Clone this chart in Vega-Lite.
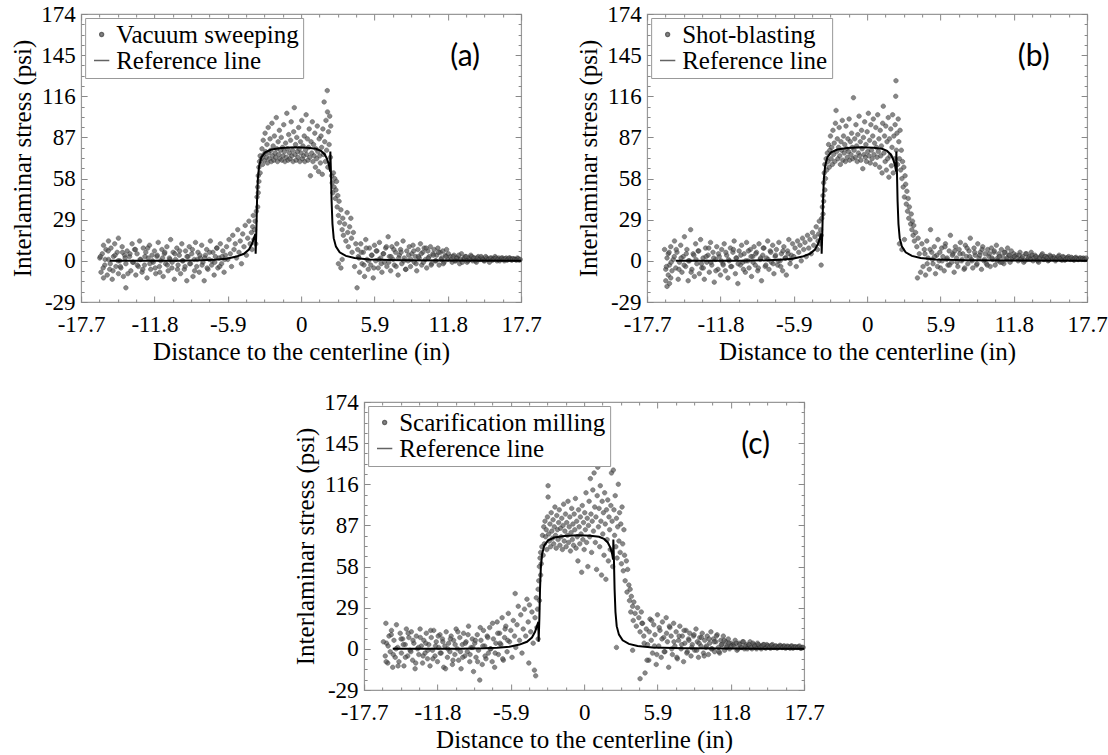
{
"$schema": "https://vega.github.io/schema/vega-lite/v6.json",
"background": "white",
"padding": {"left": 10, "top": 2, "right": 0, "bottom": 0},
"config": {
  "view": {"stroke": "#999", "strokeWidth": 1.2},
  "font": "Liberation Serif",
  "axis": {"labelFont": "Liberation Serif", "labelFontSize": 23, "labelColor": "black", "titleFont": "Liberation Serif", "titleFontSize": 25, "titleFontWeight": "normal", "titleColor": "black", "grid": false, "domain": false, "tickColor": "#888", "tickWidth": 1, "labelOverlap": false, "labelFlush": false, "labelBound": false},
  "legend": {"labelFont": "Liberation Serif", "labelFontSize": 25, "labelLimit": 400}
},
"datasets": {
  "ref": [{"x":-15.4,"y":0},{"x":-13,"y":0},{"x":-10,"y":0.1},{"x":-8,"y":0.4},{"x":-7,"y":0.8},{"x":-6,"y":1.5},{"x":-5.2,"y":3},{"x":-4.6,"y":5},{"x":-4.2,"y":8},{"x":-3.95,"y":12},{"x":-3.8,"y":16},{"x":-3.68,"y":19},{"x":-3.66,"y":5},{"x":-3.6,"y":22},{"x":-3.55,"y":42},{"x":-3.48,"y":58},{"x":-3.38,"y":67},{"x":-3.2,"y":73},{"x":-2.9,"y":76.5},{"x":-2.4,"y":78.5},{"x":-1.6,"y":79.5},{"x":-0.5,"y":80},{"x":0.5,"y":79.8},{"x":1.2,"y":79},{"x":1.6,"y":77.5},{"x":1.9,"y":75},{"x":2.1,"y":71.5},{"x":2.25,"y":67},{"x":2.33,"y":63},{"x":2.35,"y":77},{"x":2.4,"y":62},{"x":2.45,"y":42},{"x":2.52,"y":26},{"x":2.62,"y":16},{"x":2.8,"y":10},{"x":3.1,"y":6},{"x":3.6,"y":3.5},{"x":4.3,"y":2},{"x":5.5,"y":1},{"x":8,"y":0.5},{"x":12,"y":0.2},{"x":17.7,"y":0}],
  "labels": [{"panel":"a","label":"(a)","x":13.2,"y":144},{"panel":"b","label":"(b)","x":13.4,"y":144},{"panel":"c","label":"(c)","x":13.8,"y":144}],
  "a": [{"x":-16.2,"y":2},{"x":-16.1,"y":-8},{"x":-16.0,"y":5},{"x":-15.9,"y":-12},{"x":-15.9,"y":11},{"x":-15.8,"y":-3},{"x":-15.7,"y":8},{"x":-15.6,"y":-10},{"x":-15.5,"y":14},{"x":-15.5,"y":1},{"x":-15.4,"y":-6},{"x":-15.3,"y":9},{"x":-15.2,"y":-13},{"x":-15.1,"y":3},{"x":-15.0,"y":12},{"x":-14.9,"y":-4},{"x":-14.8,"y":6},{"x":-14.7,"y":-9},{"x":-14.7,"y":16},{"x":-14.6,"y":0},{"x":-14.5,"y":-5},{"x":-14.4,"y":10},{"x":-14.3,"y":-11},{"x":-14.2,"y":4},{"x":-14.1,"y":-19},{"x":-14.1,"y":-2},{"x":-14.0,"y":7},{"x":-13.8,"y":3},{"x":-13.7,"y":-7},{"x":-13.6,"y":12},{"x":-13.5,"y":-1},{"x":-13.4,"y":8},{"x":-13.3,"y":-10},{"x":-13.2,"y":5},{"x":-13.1,"y":-4},{"x":-13.0,"y":14},{"x":-12.9,"y":1},{"x":-12.8,"y":-8},{"x":-12.7,"y":9},{"x":-12.6,"y":-3},{"x":-12.5,"y":6},{"x":-12.4,"y":-12},{"x":-12.3,"y":2},{"x":-12.2,"y":11},{"x":-12.1,"y":-6},{"x":-12.0,"y":4},{"x":-11.9,"y":-1},{"x":-11.8,"y":7},{"x":-11.7,"y":-9},{"x":-11.6,"y":3},{"x":-11.5,"y":13},{"x":-11.4,"y":-4},{"x":-11.3,"y":0},{"x":-11.2,"y":8},{"x":-11.1,"y":-11},{"x":-11.0,"y":5},{"x":-10.9,"y":-2},{"x":-10.8,"y":10},{"x":-10.7,"y":-7},{"x":-10.6,"y":2},{"x":-10.5,"y":15},{"x":-10.4,"y":-5},{"x":-10.3,"y":6},{"x":-10.2,"y":-13},{"x":-10.1,"y":1},{"x":-10.0,"y":9},{"x":-9.9,"y":-3},{"x":-9.8,"y":4},{"x":-9.7,"y":-9},{"x":-9.6,"y":12},{"x":-9.5,"y":0},{"x":-9.4,"y":-6},{"x":-9.3,"y":7},{"x":-9.2,"y":-14},{"x":-9.1,"y":3},{"x":-9.0,"y":10},{"x":-8.9,"y":-2},{"x":-8.8,"y":5},{"x":-8.7,"y":-11},{"x":-8.6,"y":1},{"x":-8.5,"y":13},{"x":-8.4,"y":-4},{"x":-8.3,"y":6},{"x":-8.2,"y":-8},{"x":-8.1,"y":2},{"x":-8.0,"y":11},{"x":-7.9,"y":-1},{"x":-7.8,"y":-14},{"x":-7.7,"y":4},{"x":-7.6,"y":8},{"x":-7.5,"y":-6},{"x":-7.4,"y":1},{"x":-7.3,"y":14},{"x":-7.2,"y":-3},{"x":-7.1,"y":6},{"x":-7.0,"y":-10},{"x":-6.9,"y":3},{"x":-6.8,"y":9},{"x":-6.7,"y":-5},{"x":-6.6,"y":2},{"x":-6.5,"y":12},{"x":-6.4,"y":-2},{"x":-6.3,"y":7},{"x":-6.2,"y":-8},{"x":-6.1,"y":4},
  {"x":-6.0,"y":10},{"x":-5.9,"y":1},{"x":-5.8,"y":15},{"x":-5.7,"y":5},{"x":-5.6,"y":-4},{"x":-5.5,"y":18},{"x":-5.4,"y":8},{"x":-5.3,"y":12},{"x":-5.2,"y":2},{"x":-5.1,"y":22},{"x":-5.0,"y":6},{"x":-4.9,"y":14},{"x":-4.8,"y":-2},{"x":-4.7,"y":19},{"x":-4.6,"y":10},{"x":-4.5,"y":25},{"x":-4.4,"y":4},{"x":-4.3,"y":16},{"x":-4.2,"y":28},{"x":-4.1,"y":12},{"x":-4.0,"y":20},{"x":-3.95,"y":8},{"x":-3.9,"y":24},{"x":-3.85,"y":32},{"x":-3.8,"y":15},{"x":-3.75,"y":22},{"x":-3.7,"y":28},{"x":-3.65,"y":12},{"x":-3.6,"y":35},
  {"x":-3.55,"y":45},{"x":-3.5,"y":52},{"x":-3.5,"y":38},{"x":-3.45,"y":60},{"x":-3.45,"y":48},{"x":-3.4,"y":66},{"x":-3.4,"y":56},{"x":-3.35,"y":70},{"x":-3.3,"y":62},{"x":-3.3,"y":74},
  {"x":-3.2,"y":72},{"x":-3.15,"y":79},{"x":-3.1,"y":68},{"x":-3.05,"y":85},{"x":-3.0,"y":75},{"x":-2.95,"y":71},{"x":-2.9,"y":90},{"x":-2.85,"y":77},{"x":-2.8,"y":73},{"x":-2.75,"y":82},{"x":-2.7,"y":69},{"x":-2.65,"y":94},{"x":-2.6,"y":76},{"x":-2.55,"y":72},{"x":-2.5,"y":86},{"x":-2.45,"y":78},{"x":-2.4,"y":70},{"x":-2.35,"y":97},{"x":-2.3,"y":74},{"x":-2.25,"y":81},{"x":-2.2,"y":71},{"x":-2.15,"y":88},{"x":-2.1,"y":76},{"x":-2.05,"y":73},{"x":-2.0,"y":101},{"x":-1.95,"y":79},{"x":-1.9,"y":70},{"x":-1.85,"y":84},{"x":-1.8,"y":75},{"x":-1.75,"y":92},{"x":-1.7,"y":72},{"x":-1.65,"y":78},{"x":-1.6,"y":87},{"x":-1.55,"y":71},{"x":-1.5,"y":80},{"x":-1.45,"y":74},{"x":-1.4,"y":96},{"x":-1.35,"y":77},{"x":-1.3,"y":70},{"x":-1.25,"y":83},{"x":-1.2,"y":73},{"x":-1.15,"y":104},{"x":-1.1,"y":79},{"x":-1.05,"y":71},{"x":-1.0,"y":89},{"x":-0.95,"y":76},{"x":-0.9,"y":72},{"x":-0.85,"y":85},{"x":-0.8,"y":98},{"x":-0.75,"y":74},{"x":-0.7,"y":78},{"x":-0.65,"y":70},{"x":-0.6,"y":91},{"x":-0.55,"y":108},{"x":-0.5,"y":75},{"x":-0.45,"y":82},{"x":-0.4,"y":71},{"x":-0.35,"y":87},{"x":-0.3,"y":77},{"x":-0.25,"y":73},{"x":-0.2,"y":94},{"x":-0.15,"y":79},{"x":-0.1,"y":70},{"x":-0.05,"y":84},{"x":0.0,"y":76},{"x":0.05,"y":99},{"x":0.1,"y":72},{"x":0.15,"y":81},{"x":0.2,"y":74},{"x":0.25,"y":88},{"x":0.3,"y":70},{"x":0.35,"y":78},{"x":0.4,"y":103},{"x":0.45,"y":75},{"x":0.5,"y":86},{"x":0.55,"y":71},{"x":0.6,"y":80},{"x":0.65,"y":93},{"x":0.7,"y":73},{"x":0.75,"y":60},{"x":0.8,"y":84},{"x":0.85,"y":76},{"x":0.9,"y":98},{"x":0.95,"y":70},{"x":1.0,"y":82},{"x":1.05,"y":74},{"x":1.1,"y":90},{"x":1.15,"y":66},{"x":1.2,"y":79},{"x":1.25,"y":72},{"x":1.3,"y":95},{"x":1.35,"y":77},{"x":1.4,"y":63},{"x":1.45,"y":86},{"x":1.5,"y":74},{"x":1.55,"y":69},{"x":1.6,"y":88},{"x":1.65,"y":80},{"x":1.7,"y":61},{"x":1.75,"y":93},{"x":1.8,"y":75},{"x":1.85,"y":112},{"x":1.9,"y":84},{"x":1.95,"y":70},{"x":2.0,"y":99},{"x":2.05,"y":78},{"x":2.1,"y":120},{"x":2.12,"y":105},{"x":2.15,"y":66},{"x":2.2,"y":91},{"x":2.25,"y":82},{"x":2.3,"y":102},{"x":2.35,"y":73},{"x":2.38,"y":95},
  {"x":2.45,"y":60},{"x":2.5,"y":55},{"x":2.55,"y":48},{"x":2.6,"y":62},{"x":2.65,"y":52},{"x":2.7,"y":58},{"x":2.75,"y":44},{"x":2.8,"y":50},{"x":2.85,"y":56},{"x":2.9,"y":38},{"x":2.95,"y":46},{"x":3.0,"y":32},{"x":3.0,"y":-2},{"x":3.05,"y":42},{"x":3.1,"y":27},{"x":3.2,"y":36},{"x":3.2,"y":-5},{"x":3.3,"y":22},{"x":3.3,"y":1},{"x":3.35,"y":30},{"x":3.4,"y":18},{"x":3.5,"y":26},{"x":3.6,"y":14},{"x":3.7,"y":34},{"x":3.75,"y":20},{"x":3.8,"y":10},{"x":3.9,"y":24},{"x":4.0,"y":30},{"x":4.05,"y":16},{"x":4.1,"y":6},{"x":4.2,"y":20},{"x":4.3,"y":-4},{"x":4.4,"y":12},{"x":4.5,"y":-19},{"x":4.55,"y":8},
  {"x":4.6,"y":3},{"x":4.7,"y":-8},{"x":4.8,"y":12},{"x":4.9,"y":-2},{"x":5.0,"y":6},{"x":5.1,"y":-11},{"x":5.2,"y":15},{"x":5.3,"y":1},{"x":5.4,"y":-6},{"x":5.5,"y":9},{"x":5.6,"y":-3},{"x":5.7,"y":4},{"x":5.8,"y":-12},{"x":5.9,"y":11},{"x":6.0,"y":0},{"x":6.1,"y":7},{"x":6.2,"y":-5},{"x":6.3,"y":13},{"x":6.4,"y":2},{"x":6.5,"y":-8},{"x":6.6,"y":5},{"x":6.7,"y":-1},{"x":6.8,"y":9},{"x":6.9,"y":-4},{"x":7.0,"y":17},{"x":7.1,"y":3},{"x":7.2,"y":-7},{"x":7.3,"y":10},{"x":7.4,"y":1},{"x":7.5,"y":-3},{"x":7.6,"y":6},{"x":7.7,"y":12},{"x":7.8,"y":-10},{"x":7.9,"y":4},{"x":8.0,"y":8},{"x":8.1,"y":-2},{"x":8.2,"y":14},{"x":8.3,"y":2},{"x":8.4,"y":-6},{"x":8.5,"y":7},{"x":8.6,"y":0},{"x":8.7,"y":10},{"x":8.8,"y":-4},{"x":8.9,"y":5},{"x":9.0,"y":11},{"x":9.1,"y":-1},{"x":9.2,"y":3},{"x":9.3,"y":-7},{"x":9.4,"y":8},{"x":9.5,"y":2},{"x":9.6,"y":12},{"x":9.7,"y":-3},{"x":9.8,"y":6},{"x":9.9,"y":9},{"x":10.0,"y":1},{"x":10.1,"y":-5},{"x":10.2,"y":7},{"x":10.3,"y":3},{"x":10.4,"y":10},{"x":10.5,"y":-2},{"x":10.6,"y":5},{"x":10.7,"y":8},{"x":10.8,"y":0},{"x":10.9,"y":4},{"x":11.0,"y":9},{"x":11.1,"y":-3},{"x":11.2,"y":6},{"x":11.3,"y":2},{"x":11.4,"y":7},{"x":11.5,"y":-1},{"x":11.6,"y":4},{"x":11.7,"y":8},{"x":11.8,"y":1},
  {"x":12.0,"y":3},{"x":12.15,"y":-1},{"x":12.3,"y":4},{"x":12.45,"y":0},{"x":12.6,"y":2},{"x":12.75,"y":-2},{"x":12.9,"y":5},{"x":13.05,"y":1},{"x":13.2,"y":3},{"x":13.35,"y":-1},{"x":13.5,"y":2},{"x":13.65,"y":4},{"x":13.8,"y":0},{"x":13.95,"y":2},{"x":14.1,"y":-1},{"x":14.25,"y":3},{"x":14.4,"y":1},{"x":14.55,"y":2},{"x":14.7,"y":0},{"x":14.85,"y":3},{"x":15.0,"y":1},{"x":15.15,"y":-1},{"x":15.3,"y":2},{"x":15.45,"y":1},{"x":15.6,"y":3},{"x":15.75,"y":0},{"x":15.9,"y":2},{"x":16.05,"y":1},{"x":16.2,"y":2},{"x":16.35,"y":0},{"x":16.5,"y":2},{"x":16.65,"y":1},{"x":16.8,"y":2},{"x":16.95,"y":0.5},{"x":17.1,"y":1.5},{"x":17.25,"y":1},{"x":17.4,"y":2},{"x":17.55,"y":0.5},
  {"x":-16.15,"y":3},{"x":-15.93,"y":-5},{"x":-15.77,"y":1},{"x":-15.52,"y":7},{"x":-15.36,"y":-2},{"x":-15.14,"y":-7},{"x":-14.97,"y":4},{"x":-14.73,"y":0},{"x":-14.55,"y":-4},{"x":-14.38,"y":6},{"x":-14.16,"y":2},{"x":-13.94,"y":-9},{"x":-13.77,"y":5},{"x":-13.55,"y":-1},{"x":-13.33,"y":8},{"x":-13.18,"y":-3},{"x":-12.96,"y":1},{"x":-12.74,"y":-6},{"x":-12.57,"y":3},{"x":-12.35,"y":9},{"x":-12.17,"y":-2},{"x":-11.96,"y":0},{"x":-11.74,"y":-5},{"x":-11.58,"y":4},{"x":-11.37,"y":-8},{"x":-11.15,"y":2},{"x":-10.97,"y":6},{"x":-10.76,"y":-3},{"x":-10.55,"y":1},{"x":-10.38,"y":-1},{"x":-10.16,"y":5},{"x":-9.95,"y":-6},{"x":-9.77,"y":7},{"x":-9.56,"y":0},{"x":-9.34,"y":-4},{"x":-9.18,"y":3},{"x":-8.96,"y":-2},{"x":-8.75,"y":8},{"x":-8.57,"y":-7},{"x":-8.36,"y":1},{"x":-8.15,"y":4},{"x":-7.97,"y":-3},{"x":-7.75,"y":2},{"x":-7.56,"y":-5},{"x":-7.37,"y":6},{"x":-7.16,"y":0},{"x":-6.95,"y":-1},{"x":-6.77,"y":9},{"x":-6.55,"y":-4},{"x":-6.36,"y":3},{"x":-6.15,"y":1},
  {"x":4.65,"y":2},{"x":4.83,"y":6},{"x":5.06,"y":-3},{"x":5.24,"y":9},{"x":5.43,"y":0},{"x":5.66,"y":4},{"x":5.85,"y":-5},{"x":6.04,"y":7},{"x":6.26,"y":1},{"x":6.44,"y":-2},{"x":6.63,"y":5},{"x":6.86,"y":10},{"x":7.05,"y":-1},{"x":7.23,"y":3},{"x":7.46,"y":8},{"x":7.64,"y":-4},{"x":7.85,"y":2},{"x":8.04,"y":6},{"x":8.26,"y":0},{"x":8.43,"y":-6},{"x":8.65,"y":4},{"x":8.84,"y":1},{"x":9.06,"y":7},{"x":9.25,"y":-2},{"x":9.44,"y":3},{"x":9.66,"y":5},{"x":9.84,"y":-1},{"x":10.05,"y":9},{"x":10.23,"y":2},{"x":10.46,"y":-3},{"x":10.64,"y":4},{"x":10.85,"y":0},{"x":11.04,"y":6},{"x":11.26,"y":1},{"x":11.44,"y":-2},{"x":11.65,"y":3},{"x":11.85,"y":5},
  {"x":12.07,"y":1},{"x":12.23,"y":3},{"x":12.37,"y":0},{"x":12.52,"y":2},{"x":12.68,"y":4},{"x":12.82,"y":1},{"x":12.97,"y":-1},{"x":13.13,"y":2},{"x":13.27,"y":3},{"x":13.42,"y":0},{"x":13.58,"y":1},{"x":13.72,"y":3},{"x":13.87,"y":2},{"x":14.03,"y":0},{"x":14.17,"y":2},{"x":14.32,"y":1},{"x":14.48,"y":3},{"x":14.62,"y":1},{"x":14.77,"y":0},{"x":14.93,"y":2},{"x":15.07,"y":1},{"x":15.22,"y":2},{"x":15.38,"y":0.5},{"x":15.52,"y":1.5},{"x":15.67,"y":2},{"x":15.83,"y":1},{"x":15.97,"y":0},{"x":16.12,"y":2},{"x":16.28,"y":1},{"x":16.42,"y":1.5},{"x":16.57,"y":0.5},{"x":16.73,"y":2},{"x":16.87,"y":1},{"x":17.02,"y":1.5},{"x":17.18,"y":1},{"x":17.32,"y":0.5},{"x":17.47,"y":1.5},{"x":17.62,"y":1}],
  "b": [{"x":-16.3,"y":8},{"x":-16.2,"y":-6},{"x":-16.2,"y":-14},{"x":-16.1,"y":2},{"x":-16.1,"y":-18},{"x":-16.0,"y":-10},{"x":-16.0,"y":5},{"x":-15.9,"y":-16},{"x":-15.9,"y":-3},{"x":-15.8,"y":-12},{"x":-15.8,"y":10},{"x":-15.7,"y":-7},{"x":-15.6,"y":1},{"x":-15.5,"y":14},{"x":-15.4,"y":-5},{"x":-15.3,"y":6},{"x":-15.2,"y":-13},{"x":-15.1,"y":-1},{"x":-15.0,"y":11},{"x":-14.9,"y":-8},{"x":-14.8,"y":3},{"x":-14.7,"y":17},{"x":-14.6,"y":-4},{"x":-14.5,"y":8},{"x":-14.4,"y":-14},{"x":-14.3,"y":0},{"x":-14.2,"y":22},{"x":-14.1,"y":-6},{"x":-14.0,"y":5},{"x":-13.9,"y":-11},{"x":-13.8,"y":12},{"x":-13.7,"y":-2},{"x":-13.6,"y":7},{"x":-13.5,"y":-9},{"x":-13.4,"y":15},{"x":-13.3,"y":-5},{"x":-13.2,"y":2},{"x":-13.1,"y":-13},{"x":-13.0,"y":9},{"x":-12.9,"y":-1},{"x":-12.8,"y":4},{"x":-12.7,"y":-8},{"x":-12.6,"y":13},{"x":-12.5,"y":-3},{"x":-12.4,"y":6},{"x":-12.3,"y":-15},{"x":-12.2,"y":1},{"x":-12.1,"y":10},{"x":-12.0,"y":-6},{"x":-11.9,"y":3},{"x":-11.8,"y":-10},{"x":-11.7,"y":8},{"x":-11.6,"y":-2},{"x":-11.5,"y":12},{"x":-11.4,"y":-7},{"x":-11.3,"y":4},{"x":-11.2,"y":-12},{"x":-11.1,"y":0},{"x":-11.0,"y":9},{"x":-10.9,"y":-4},{"x":-10.8,"y":6},{"x":-10.7,"y":14},{"x":-10.6,"y":-9},{"x":-10.5,"y":2},{"x":-10.4,"y":-16},{"x":-10.3,"y":7},{"x":-10.2,"y":-3},{"x":-10.1,"y":11},{"x":-10.0,"y":-1},{"x":-9.9,"y":5},{"x":-9.8,"y":-8},{"x":-9.7,"y":13},{"x":-9.6,"y":0},{"x":-9.5,"y":-5},{"x":-9.4,"y":8},{"x":-9.3,"y":-11},{"x":-9.2,"y":3},{"x":-9.1,"y":10},{"x":-9.0,"y":-3},{"x":-8.9,"y":6},{"x":-8.8,"y":-7},{"x":-8.7,"y":12},{"x":-8.6,"y":1},{"x":-8.5,"y":-14},{"x":-8.4,"y":4},{"x":-8.3,"y":9},{"x":-8.2,"y":-4},{"x":-8.1,"y":2},{"x":-8.0,"y":14},{"x":-7.9,"y":-6},{"x":-7.8,"y":7},{"x":-7.7,"y":-1},{"x":-7.6,"y":11},{"x":-7.5,"y":-9},{"x":-7.4,"y":3},{"x":-7.3,"y":8},{"x":-7.2,"y":-3},{"x":-7.1,"y":13},{"x":-7.0,"y":0},{"x":-6.9,"y":5},{"x":-6.8,"y":-7},{"x":-6.7,"y":10},{"x":-6.6,"y":2},{"x":-6.5,"y":-10},{"x":-6.4,"y":7},{"x":-6.3,"y":15},{"x":-6.2,"y":-2},{"x":-6.1,"y":4},
  {"x":-6.0,"y":12},{"x":-5.9,"y":3},{"x":-5.8,"y":9},{"x":-5.7,"y":-4},{"x":-5.6,"y":14},{"x":-5.5,"y":6},{"x":-5.4,"y":11},{"x":-5.3,"y":0},{"x":-5.2,"y":16},{"x":-5.1,"y":8},{"x":-5.0,"y":13},{"x":-4.9,"y":3},{"x":-4.8,"y":18},{"x":-4.7,"y":9},{"x":-4.6,"y":15},{"x":-4.5,"y":5},{"x":-4.4,"y":20},{"x":-4.3,"y":11},{"x":-4.2,"y":17},{"x":-4.1,"y":24},{"x":-4.0,"y":8},{"x":-3.95,"y":14},{"x":-3.9,"y":19},{"x":-3.85,"y":28},{"x":-3.8,"y":12},{"x":-3.75,"y":22},{"x":-3.7,"y":-3},{"x":-3.7,"y":18},{"x":-3.65,"y":30},
  {"x":-3.6,"y":38},{"x":-3.55,"y":46},{"x":-3.55,"y":33},{"x":-3.5,"y":55},{"x":-3.5,"y":42},{"x":-3.45,"y":62},{"x":-3.4,"y":50},{"x":-3.4,"y":68},{"x":-3.35,"y":58},{"x":-3.3,"y":72},
  {"x":-3.25,"y":64},{"x":-3.2,"y":76},{"x":-3.15,"y":70},{"x":-3.1,"y":82},{"x":-3.05,"y":66},{"x":-3.0,"y":78},{"x":-2.95,"y":88},{"x":-2.9,"y":72},{"x":-2.85,"y":80},{"x":-2.8,"y":68},{"x":-2.75,"y":92},{"x":-2.7,"y":75},{"x":-2.65,"y":83},{"x":-2.6,"y":70},{"x":-2.55,"y":97},{"x":-2.5,"y":106},{"x":-2.45,"y":77},{"x":-2.4,"y":86},{"x":-2.35,"y":72},{"x":-2.3,"y":80},{"x":-2.25,"y":94},{"x":-2.2,"y":74},{"x":-2.15,"y":68},{"x":-2.1,"y":84},{"x":-2.05,"y":78},{"x":-2.0,"y":99},{"x":-1.95,"y":71},{"x":-1.9,"y":88},{"x":-1.85,"y":76},{"x":-1.8,"y":82},{"x":-1.75,"y":70},{"x":-1.7,"y":95},{"x":-1.65,"y":79},{"x":-1.6,"y":73},{"x":-1.55,"y":86},{"x":-1.5,"y":77},{"x":-1.45,"y":100},{"x":-1.4,"y":71},{"x":-1.35,"y":84},{"x":-1.3,"y":75},{"x":-1.25,"y":90},{"x":-1.2,"y":80},{"x":-1.15,"y":72},{"x":-1.1,"y":115},{"x":-1.05,"y":78},{"x":-1.0,"y":86},{"x":-0.95,"y":73},{"x":-0.9,"y":96},{"x":-0.85,"y":81},{"x":-0.8,"y":70},{"x":-0.75,"y":89},{"x":-0.7,"y":76},{"x":-0.65,"y":102},{"x":-0.6,"y":74},{"x":-0.55,"y":84},{"x":-0.5,"y":71},{"x":-0.45,"y":92},{"x":-0.4,"y":79},{"x":-0.35,"y":65},{"x":-0.3,"y":87},{"x":-0.25,"y":75},{"x":-0.2,"y":98},{"x":-0.15,"y":73},{"x":-0.1,"y":82},{"x":-0.05,"y":70},{"x":0.0,"y":91},{"x":0.05,"y":77},{"x":0.1,"y":104},{"x":0.15,"y":74},{"x":0.2,"y":85},{"x":0.25,"y":69},{"x":0.3,"y":96},{"x":0.35,"y":78},{"x":0.4,"y":72},{"x":0.45,"y":88},{"x":0.5,"y":100},{"x":0.55,"y":75},{"x":0.6,"y":83},{"x":0.65,"y":68},{"x":0.7,"y":94},{"x":0.75,"y":80},{"x":0.8,"y":73},{"x":0.85,"y":103},{"x":0.9,"y":77},{"x":0.95,"y":86},{"x":1.0,"y":66},{"x":1.05,"y":92},{"x":1.1,"y":74},{"x":1.15,"y":81},{"x":1.2,"y":62},{"x":1.25,"y":97},{"x":1.3,"y":109},{"x":1.35,"y":76},{"x":1.4,"y":88},{"x":1.45,"y":70},{"x":1.5,"y":95},{"x":1.55,"y":64},{"x":1.6,"y":84},{"x":1.65,"y":72},{"x":1.7,"y":101},{"x":1.75,"y":59},{"x":1.8,"y":86},{"x":1.85,"y":74},{"x":1.9,"y":93},{"x":1.95,"y":67},{"x":2.0,"y":80},{"x":2.05,"y":103},{"x":2.1,"y":62},{"x":2.15,"y":88},{"x":2.2,"y":72},{"x":2.25,"y":96},{"x":2.3,"y":116},{"x":2.32,"y":127},{"x":2.35,"y":78},{"x":2.4,"y":90},{"x":2.45,"y":68},{"x":2.5,"y":100},
  {"x":2.55,"y":84},{"x":2.6,"y":72},{"x":2.6,"y":12},{"x":2.65,"y":92},{"x":2.7,"y":64},{"x":2.75,"y":78},{"x":2.8,"y":58},{"x":2.8,"y":8},{"x":2.85,"y":70},{"x":2.9,"y":52},{"x":2.95,"y":66},{"x":3.0,"y":45},{"x":3.0,"y":15},{"x":3.05,"y":60},{"x":3.1,"y":54},{"x":3.15,"y":40},{"x":3.2,"y":49},{"x":3.25,"y":35},{"x":3.3,"y":44},{"x":3.35,"y":30},{"x":3.4,"y":38},{"x":3.5,"y":26},{"x":3.55,"y":33},{"x":3.6,"y":22},{"x":3.65,"y":28},{"x":3.7,"y":18},{"x":3.75,"y":25},{"x":3.8,"y":14},{"x":3.9,"y":20},{"x":4.0,"y":10},{"x":4.05,"y":-12},{"x":4.1,"y":16},{"x":4.2,"y":5},{"x":4.3,"y":-8},
  {"x":4.4,"y":12},{"x":4.5,"y":-4},{"x":4.6,"y":8},{"x":4.7,"y":-10},{"x":4.8,"y":14},{"x":4.9,"y":2},{"x":5.0,"y":-6},{"x":5.1,"y":22},{"x":5.2,"y":6},{"x":5.3,"y":-2},{"x":5.4,"y":10},{"x":5.5,"y":-9},{"x":5.6,"y":4},{"x":5.7,"y":15},{"x":5.8,"y":0},{"x":5.9,"y":-5},{"x":6.0,"y":9},{"x":6.1,"y":3},{"x":6.2,"y":-7},{"x":6.3,"y":12},{"x":6.4,"y":1},{"x":6.5,"y":-3},{"x":6.6,"y":7},{"x":6.7,"y":18},{"x":6.8,"y":-1},{"x":6.9,"y":5},{"x":7.0,"y":-8},{"x":7.1,"y":10},{"x":7.2,"y":2},{"x":7.3,"y":-4},{"x":7.4,"y":8},{"x":7.5,"y":13},{"x":7.6,"y":0},{"x":7.7,"y":5},{"x":7.8,"y":-6},{"x":7.9,"y":11},{"x":8.0,"y":3},{"x":8.1,"y":-2},{"x":8.2,"y":7},{"x":8.3,"y":16},{"x":8.4,"y":1},{"x":8.5,"y":-5},{"x":8.6,"y":9},{"x":8.7,"y":4},{"x":8.8,"y":-3},{"x":8.9,"y":12},{"x":9.0,"y":2},{"x":9.1,"y":6},{"x":9.2,"y":-6},{"x":9.3,"y":10},{"x":9.4,"y":0},{"x":9.5,"y":5},{"x":9.6,"y":-2},{"x":9.7,"y":8},{"x":9.8,"y":3},{"x":9.9,"y":-4},{"x":10.0,"y":9},{"x":10.1,"y":1},{"x":10.2,"y":6},{"x":10.3,"y":-3},{"x":10.4,"y":11},{"x":10.5,"y":2},{"x":10.6,"y":5},{"x":10.7,"y":-1},{"x":10.8,"y":8},{"x":10.9,"y":3},{"x":11.0,"y":-2},{"x":11.1,"y":6},{"x":11.2,"y":1},{"x":11.3,"y":9},{"x":11.4,"y":4},{"x":11.5,"y":-1},{"x":11.6,"y":7},{"x":11.7,"y":2},{"x":11.8,"y":5},
  {"x":12.0,"y":4},{"x":12.15,"y":0},{"x":12.3,"y":6},{"x":12.45,"y":2},{"x":12.6,"y":-1},{"x":12.75,"y":5},{"x":12.9,"y":1},{"x":13.05,"y":3},{"x":13.2,"y":6},{"x":13.35,"y":0},{"x":13.5,"y":4},{"x":13.65,"y":2},{"x":13.8,"y":-1},{"x":13.95,"y":3},{"x":14.1,"y":5},{"x":14.25,"y":1},{"x":14.4,"y":3},{"x":14.55,"y":0},{"x":14.7,"y":4},{"x":14.85,"y":2},{"x":15.0,"y":3},{"x":15.15,"y":0},{"x":15.3,"y":2},{"x":15.45,"y":4},{"x":15.6,"y":1},{"x":15.75,"y":3},{"x":15.9,"y":0.5},{"x":16.05,"y":2},{"x":16.2,"y":3},{"x":16.35,"y":1},{"x":16.5,"y":2},{"x":16.65,"y":0.5},{"x":16.8,"y":2.5},{"x":16.95,"y":1},{"x":17.1,"y":2},{"x":17.25,"y":1},{"x":17.4,"y":2},{"x":17.55,"y":1},
  {"x":-16.15,"y":-4},{"x":-15.93,"y":6},{"x":-15.77,"y":-1},{"x":-15.52,"y":3},{"x":-15.36,"y":8},{"x":-15.14,"y":-6},{"x":-14.97,"y":2},{"x":-14.73,"y":-3},{"x":-14.55,"y":5},{"x":-14.38,"y":0},{"x":-14.16,"y":-8},{"x":-13.94,"y":4},{"x":-13.77,"y":1},{"x":-13.55,"y":7},{"x":-13.33,"y":-2},{"x":-13.18,"y":-5},{"x":-12.96,"y":3},{"x":-12.74,"y":9},{"x":-12.57,"y":-1},{"x":-12.35,"y":2},{"x":-12.17,"y":-7},{"x":-11.96,"y":5},{"x":-11.74,"y":0},{"x":-11.58,"y":-3},{"x":-11.37,"y":6},{"x":-11.15,"y":1},{"x":-10.97,"y":-4},{"x":-10.76,"y":8},{"x":-10.55,"y":2},{"x":-10.38,"y":-2},{"x":-10.16,"y":4},{"x":-9.95,"y":-6},{"x":-9.77,"y":0},{"x":-9.56,"y":7},{"x":-9.34,"y":3},{"x":-9.18,"y":-1},{"x":-8.96,"y":5},{"x":-8.75,"y":-5},{"x":-8.57,"y":2},{"x":-8.36,"y":9},{"x":-8.15,"y":-3},{"x":-7.97,"y":1},{"x":-7.75,"y":6},{"x":-7.56,"y":-2},{"x":-7.37,"y":4},{"x":-7.16,"y":0},{"x":-6.95,"y":-4},{"x":-6.77,"y":7},{"x":-6.55,"y":2},{"x":-6.36,"y":5},{"x":-6.15,"y":1},
  {"x":4.65,"y":5},{"x":4.83,"y":-2},{"x":5.06,"y":8},{"x":5.24,"y":1},{"x":5.43,"y":3},{"x":5.66,"y":-4},{"x":5.85,"y":6},{"x":6.04,"y":0},{"x":6.26,"y":10},{"x":6.44,"y":2},{"x":6.63,"y":-3},{"x":6.86,"y":4},{"x":7.05,"y":7},{"x":7.23,"y":-1},{"x":7.46,"y":5},{"x":7.64,"y":1},{"x":7.85,"y":-5},{"x":8.04,"y":9},{"x":8.26,"y":3},{"x":8.43,"y":0},{"x":8.65,"y":6},{"x":8.84,"y":-2},{"x":9.06,"y":4},{"x":9.25,"y":8},{"x":9.44,"y":1},{"x":9.66,"y":-3},{"x":9.84,"y":5},{"x":10.05,"y":2},{"x":10.23,"y":7},{"x":10.46,"y":0},{"x":10.64,"y":3},{"x":10.85,"y":-1},{"x":11.04,"y":6},{"x":11.26,"y":2},{"x":11.44,"y":4},{"x":11.65,"y":1},{"x":11.85,"y":3},
  {"x":12.07,"y":2},{"x":12.23,"y":4},{"x":12.37,"y":1},{"x":12.52,"y":3},{"x":12.68,"y":0},{"x":12.82,"y":5},{"x":12.97,"y":2},{"x":13.13,"y":1},{"x":13.27,"y":4},{"x":13.42,"y":2},{"x":13.58,"y":3},{"x":13.72,"y":0},{"x":13.87,"y":2},{"x":14.03,"y":4},{"x":14.17,"y":1},{"x":14.32,"y":3},{"x":14.48,"y":2},{"x":14.62,"y":0.5},{"x":14.77,"y":3},{"x":14.93,"y":1.5},{"x":15.07,"y":2},{"x":15.22,"y":1},{"x":15.38,"y":3},{"x":15.52,"y":1.5},{"x":15.67,"y":0.5},{"x":15.83,"y":2.5},{"x":15.97,"y":1},{"x":16.12,"y":2},{"x":16.28,"y":1.5},{"x":16.42,"y":2.5},{"x":16.57,"y":1},{"x":16.73,"y":2},{"x":16.87,"y":1.5},{"x":17.02,"y":1},{"x":17.18,"y":2},{"x":17.32,"y":1.5},{"x":17.47,"y":1},{"x":17.62,"y":2}],
  "c": [{"x":-16.0,"y":-5},{"x":-15.95,"y":18},{"x":-15.9,"y":4},{"x":-15.8,"y":-10},{"x":-15.7,"y":9},{"x":-15.6,"y":-2},{"x":-15.5,"y":13},{"x":-15.4,"y":-13},{"x":-15.3,"y":6},{"x":-15.2,"y":-6},{"x":-15.1,"y":17},{"x":-15.0,"y":1},{"x":-14.9,"y":-9},{"x":-14.8,"y":11},{"x":-14.7,"y":-3},{"x":-14.6,"y":7},{"x":-14.5,"y":-12},{"x":-14.4,"y":3},{"x":-14.3,"y":14},{"x":-14.2,"y":-5},{"x":-14.1,"y":8},{"x":-14.0,"y":-1},{"x":-13.9,"y":12},{"x":-13.8,"y":-8},{"x":-13.7,"y":4},{"x":-13.6,"y":-14},{"x":-13.5,"y":9},{"x":-13.4,"y":0},{"x":-13.3,"y":-4},{"x":-13.2,"y":14},{"x":-13.1,"y":2},{"x":-13.0,"y":-10},{"x":-12.9,"y":6},{"x":-12.8,"y":-3},{"x":-12.7,"y":11},{"x":-12.6,"y":-7},{"x":-12.5,"y":3},{"x":-12.4,"y":-12},{"x":-12.3,"y":8},{"x":-12.2,"y":-1},{"x":-12.1,"y":13},{"x":-12.0,"y":-5},{"x":-11.9,"y":5},{"x":-11.8,"y":-9},{"x":-11.7,"y":1},{"x":-11.6,"y":10},{"x":-11.5,"y":-3},{"x":-11.4,"y":7},{"x":-11.3,"y":-13},{"x":-11.2,"y":2},{"x":-11.1,"y":12},{"x":-11.0,"y":-6},{"x":-10.9,"y":4},{"x":-10.8,"y":-2},{"x":-10.7,"y":9},{"x":-10.6,"y":-11},{"x":-10.5,"y":6},{"x":-10.4,"y":-4},{"x":-10.3,"y":14},{"x":-10.2,"y":0},{"x":-10.1,"y":-8},{"x":-10.0,"y":8},{"x":-9.9,"y":-14},{"x":-9.8,"y":3},{"x":-9.7,"y":11},{"x":-9.6,"y":-5},{"x":-9.5,"y":5},{"x":-9.4,"y":-2},{"x":-9.3,"y":16},{"x":-9.2,"y":-9},{"x":-9.1,"y":1},{"x":-9.0,"y":7},{"x":-8.9,"y":-16},{"x":-8.8,"y":4},{"x":-8.7,"y":-6},{"x":-8.6,"y":10},{"x":-8.5,"y":-1},{"x":-8.4,"y":-22},{"x":-8.3,"y":6},{"x":-8.2,"y":-11},{"x":-8.1,"y":13},{"x":-8.0,"y":2},{"x":-7.9,"y":-7},{"x":-7.8,"y":9},{"x":-7.7,"y":-3},{"x":-7.6,"y":15},{"x":-7.5,"y":0},{"x":-7.4,"y":-9},{"x":-7.3,"y":7},{"x":-7.2,"y":-13},{"x":-7.1,"y":4},{"x":-7.0,"y":19},
  {"x":-6.9,"y":-4},{"x":-6.8,"y":11},{"x":-6.7,"y":3},{"x":-6.6,"y":22},{"x":-6.5,"y":-8},{"x":-6.4,"y":8},{"x":-6.3,"y":16},{"x":-6.2,"y":-2},{"x":-6.1,"y":25},{"x":-6.0,"y":5},{"x":-5.9,"y":13},{"x":-5.8,"y":-6},{"x":-5.7,"y":20},{"x":-5.6,"y":9},{"x":-5.55,"y":39},{"x":-5.5,"y":1},{"x":-5.4,"y":17},{"x":-5.3,"y":30},{"x":-5.2,"y":6},{"x":-5.1,"y":24},{"x":-5.0,"y":-3},{"x":-4.9,"y":14},{"x":-4.8,"y":28},{"x":-4.7,"y":9},{"x":-4.6,"y":35},{"x":-4.5,"y":19},{"x":-4.45,"y":-10},{"x":-4.4,"y":31},{"x":-4.3,"y":12},{"x":-4.2,"y":26},{"x":-4.1,"y":4},{"x":-4.0,"y":-15},{"x":-3.95,"y":22},{"x":-3.9,"y":-19},{"x":-3.85,"y":36},{"x":-3.8,"y":15},{"x":-3.75,"y":28},{"x":-3.7,"y":42},{"x":-3.7,"y":7},
  {"x":-3.65,"y":48},{"x":-3.6,"y":58},{"x":-3.6,"y":34},{"x":-3.55,"y":64},{"x":-3.5,"y":52},{"x":-3.5,"y":68},{"x":-3.45,"y":60},{"x":-3.4,"y":72},{"x":-3.35,"y":80},{"x":-3.3,"y":66},
  {"x":-3.25,"y":86},{"x":-3.2,"y":74},{"x":-3.15,"y":90},{"x":-3.1,"y":79},{"x":-3.05,"y":84},{"x":-3.0,"y":70},{"x":-2.95,"y":93},{"x":-2.9,"y":115},{"x":-2.9,"y":107},{"x":-2.85,"y":81},{"x":-2.8,"y":76},{"x":-2.75,"y":88},{"x":-2.7,"y":72},{"x":-2.65,"y":96},{"x":-2.6,"y":83},{"x":-2.55,"y":78},{"x":-2.5,"y":91},{"x":-2.45,"y":74},{"x":-2.4,"y":86},{"x":-2.35,"y":100},{"x":-2.3,"y":80},{"x":-2.25,"y":71},{"x":-2.2,"y":94},{"x":-2.15,"y":84},{"x":-2.1,"y":77},{"x":-2.05,"y":89},{"x":-2.0,"y":98},{"x":-1.95,"y":73},{"x":-1.9,"y":85},{"x":-1.85,"y":79},{"x":-1.8,"y":92},{"x":-1.75,"y":70},{"x":-1.7,"y":87},{"x":-1.65,"y":102},{"x":-1.6,"y":76},{"x":-1.55,"y":83},{"x":-1.5,"y":95},{"x":-1.45,"y":72},{"x":-1.4,"y":89},{"x":-1.35,"y":80},{"x":-1.3,"y":104},{"x":-1.25,"y":75},{"x":-1.2,"y":86},{"x":-1.15,"y":93},{"x":-1.1,"y":69},{"x":-1.05,"y":82},{"x":-1.0,"y":99},{"x":-0.95,"y":77},{"x":-0.9,"y":88},{"x":-0.85,"y":73},{"x":-0.8,"y":95},{"x":-0.75,"y":84},{"x":-0.7,"y":106},{"x":-0.65,"y":71},{"x":-0.6,"y":90},{"x":-0.55,"y":79},{"x":-0.5,"y":62},{"x":-0.45,"y":98},{"x":-0.4,"y":86},{"x":-0.35,"y":74},{"x":-0.3,"y":93},{"x":-0.25,"y":81},{"x":-0.2,"y":54},{"x":-0.15,"y":101},{"x":-0.1,"y":77},{"x":-0.05,"y":89},{"x":0.0,"y":70},{"x":0.05,"y":96},{"x":0.1,"y":84},{"x":0.15,"y":110},{"x":0.2,"y":75},{"x":0.25,"y":92},{"x":0.3,"y":58},{"x":0.35,"y":87},{"x":0.4,"y":104},{"x":0.45,"y":79},{"x":0.5,"y":120},{"x":0.55,"y":95},{"x":0.6,"y":68},{"x":0.65,"y":90},{"x":0.7,"y":112},{"x":0.75,"y":83},{"x":0.8,"y":124},{"x":0.85,"y":100},{"x":0.9,"y":75},{"x":0.95,"y":93},{"x":1.0,"y":56},{"x":1.05,"y":108},{"x":1.1,"y":128},{"x":1.15,"y":86},{"x":1.2,"y":99},{"x":1.25,"y":72},{"x":1.3,"y":115},{"x":1.35,"y":90},{"x":1.4,"y":52},{"x":1.45,"y":104},{"x":1.5,"y":81},{"x":1.55,"y":96},{"x":1.6,"y":66},{"x":1.65,"y":110},{"x":1.7,"y":88},{"x":1.75,"y":49},{"x":1.8,"y":98},{"x":1.85,"y":77},{"x":1.9,"y":105},{"x":1.95,"y":62},{"x":2.0,"y":93},{"x":2.05,"y":84},{"x":2.1,"y":70},{"x":2.15,"y":101},{"x":2.2,"y":124},{"x":2.25,"y":90},{"x":2.3,"y":58},{"x":2.35,"y":126},
  {"x":2.4,"y":98},{"x":2.45,"y":80},{"x":2.5,"y":108},{"x":2.55,"y":72},{"x":2.6,"y":92},{"x":2.6,"y":1},{"x":2.65,"y":64},{"x":2.7,"y":86},{"x":2.75,"y":116},{"x":2.8,"y":76},{"x":2.85,"y":96},{"x":2.9,"y":68},{"x":2.95,"y":88},{"x":3.0,"y":60},{"x":3.05,"y":100},{"x":3.1,"y":74},{"x":3.15,"y":55},{"x":3.2,"y":84},{"x":3.25,"y":66},{"x":3.3,"y":48},{"x":3.4,"y":62},{"x":3.45,"y":40},{"x":3.5,"y":56},{"x":3.6,"y":45},{"x":3.65,"y":34},{"x":3.7,"y":42},{"x":3.75,"y":26},{"x":3.8,"y":37},{"x":3.9,"y":30},{"x":3.9,"y":-1},{"x":3.95,"y":20},{"x":4.0,"y":33},{"x":4.1,"y":25},{"x":4.2,"y":16},{"x":4.3,"y":29},{"x":4.4,"y":22},{"x":4.5,"y":12},{"x":4.5,"y":-21},{"x":4.6,"y":26},{"x":4.7,"y":18},{"x":4.8,"y":9},
  {"x":4.9,"y":-17},{"x":5.0,"y":14},{"x":5.1,"y":3},{"x":5.2,"y":-8},{"x":5.3,"y":21},{"x":5.4,"y":6},{"x":5.5,"y":-3},{"x":5.6,"y":17},{"x":5.7,"y":10},{"x":5.8,"y":-11},{"x":5.9,"y":24},{"x":6.0,"y":2},{"x":6.1,"y":13},{"x":6.2,"y":-6},{"x":6.3,"y":19},{"x":6.4,"y":8},{"x":6.5,"y":-2},{"x":6.6,"y":22},{"x":6.7,"y":5},{"x":6.8,"y":-13},{"x":6.9,"y":15},{"x":7.0,"y":9},{"x":7.1,"y":-4},{"x":7.2,"y":18},{"x":7.3,"y":2},{"x":7.4,"y":12},{"x":7.5,"y":-7},{"x":7.6,"y":6},{"x":7.7,"y":16},{"x":7.8,"y":0},{"x":7.9,"y":9},{"x":8.0,"y":-9},{"x":8.1,"y":4},{"x":8.2,"y":13},{"x":8.3,"y":-2},{"x":8.4,"y":7},{"x":8.5,"y":11},{"x":8.6,"y":-5},{"x":8.7,"y":3},{"x":8.8,"y":9},{"x":8.9,"y":-1},{"x":9.0,"y":14},{"x":9.1,"y":5},{"x":9.2,"y":-6},{"x":9.3,"y":8},{"x":9.4,"y":2},{"x":9.5,"y":11},{"x":9.6,"y":-3},{"x":9.7,"y":6},{"x":9.8,"y":1},{"x":9.9,"y":9},{"x":10.0,"y":-4},{"x":10.1,"y":4},{"x":10.2,"y":12},{"x":10.3,"y":0},{"x":10.4,"y":7},{"x":10.5,"y":-2},{"x":10.6,"y":5},{"x":10.7,"y":10},{"x":10.8,"y":1},{"x":10.9,"y":-3},{"x":11.0,"y":6},{"x":11.1,"y":3},{"x":11.2,"y":9},{"x":11.3,"y":-1},{"x":11.4,"y":5},{"x":11.5,"y":2},{"x":11.6,"y":7},{"x":11.7,"y":0},{"x":11.8,"y":4},
  {"x":12.0,"y":3},{"x":12.15,"y":6},{"x":12.3,"y":-1},{"x":12.45,"y":4},{"x":12.6,"y":1},{"x":12.75,"y":5},{"x":12.9,"y":0},{"x":13.05,"y":3},{"x":13.2,"y":2},{"x":13.35,"y":5},{"x":13.5,"y":0},{"x":13.65,"y":3},{"x":13.8,"y":1},{"x":13.95,"y":4},{"x":14.1,"y":2},{"x":14.25,"y":0},{"x":14.4,"y":3},{"x":14.55,"y":1},{"x":14.7,"y":3},{"x":14.85,"y":2},{"x":15.0,"y":0.5},{"x":15.15,"y":3},{"x":15.3,"y":1},{"x":15.45,"y":2},{"x":15.6,"y":1},{"x":15.75,"y":2.5},{"x":15.9,"y":1},{"x":16.05,"y":2},{"x":16.2,"y":0.5},{"x":16.35,"y":2},{"x":16.5,"y":1},{"x":16.65,"y":2},{"x":16.8,"y":0.5},{"x":16.95,"y":1.5},{"x":17.1,"y":1},{"x":17.25,"y":1.5},{"x":17.4,"y":0.5},{"x":17.55,"y":1},
  {"x":-16.15,"y":5},{"x":-15.93,"y":-9},{"x":-15.77,"y":2},{"x":-15.52,"y":10},{"x":-15.36,"y":-4},{"x":-15.14,"y":0},{"x":-14.97,"y":-12},{"x":-14.73,"y":7},{"x":-14.55,"y":3},{"x":-14.38,"y":-6},{"x":-14.16,"y":11},{"x":-13.94,"y":-2},{"x":-13.77,"y":6},{"x":-13.55,"y":-10},{"x":-13.33,"y":1},{"x":-13.18,"y":8},{"x":-12.96,"y":-5},{"x":-12.74,"y":4},{"x":-12.57,"y":-1},{"x":-12.35,"y":13},{"x":-12.17,"y":-7},{"x":-11.96,"y":2},{"x":-11.74,"y":9},{"x":-11.58,"y":-3},{"x":-11.37,"y":5},{"x":-11.15,"y":-14},{"x":-10.97,"y":0},{"x":-10.76,"y":7},{"x":-10.55,"y":-8},{"x":-10.38,"y":3},{"x":-10.16,"y":12},{"x":-9.95,"y":-2},{"x":-9.77,"y":-6},{"x":-9.56,"y":4},{"x":-9.34,"y":10},{"x":-9.18,"y":-4},{"x":-8.96,"y":1},{"x":-8.75,"y":6},{"x":-8.57,"y":-9},{"x":-8.36,"y":15},{"x":-8.15,"y":2},{"x":-7.97,"y":-5},{"x":-7.75,"y":8},{"x":-7.56,"y":0},{"x":-7.37,"y":18},{"x":-7.16,"y":-3},{"x":-6.95,"y":11},{"x":-6.77,"y":4},{"x":-6.55,"y":-7},{"x":-6.36,"y":14},{"x":-6.15,"y":6},
  {"x":4.65,"y":18},{"x":4.83,"y":4},{"x":5.06,"y":-8},{"x":5.24,"y":12},{"x":5.43,"y":20},{"x":5.66,"y":2},{"x":5.85,"y":-4},{"x":6.04,"y":15},{"x":6.26,"y":7},{"x":6.44,"y":-2},{"x":6.63,"y":11},{"x":6.86,"y":16},{"x":7.05,"y":0},{"x":7.23,"y":5},{"x":7.46,"y":-6},{"x":7.64,"y":9},{"x":7.85,"y":3},{"x":8.04,"y":13},{"x":8.26,"y":-3},{"x":8.43,"y":6},{"x":8.65,"y":1},{"x":8.84,"y":10},{"x":9.06,"y":-1},{"x":9.25,"y":4},{"x":9.44,"y":8},{"x":9.66,"y":-5},{"x":9.84,"y":2},{"x":10.05,"y":7},{"x":10.23,"y":0},{"x":10.46,"y":5},{"x":10.64,"y":9},{"x":10.85,"y":-2},{"x":11.04,"y":3},{"x":11.26,"y":6},{"x":11.44,"y":1},{"x":11.65,"y":4},{"x":11.85,"y":2},
  {"x":12.07,"y":2},{"x":12.23,"y":4},{"x":12.37,"y":0},{"x":12.52,"y":3},{"x":12.68,"y":1},{"x":12.82,"y":5},{"x":12.97,"y":2},{"x":13.13,"y":0},{"x":13.27,"y":3},{"x":13.42,"y":1},{"x":13.58,"y":4},{"x":13.72,"y":2},{"x":13.87,"y":0},{"x":14.03,"y":3},{"x":14.17,"y":1},{"x":14.32,"y":2},{"x":14.48,"y":3},{"x":14.62,"y":0.5},{"x":14.77,"y":2},{"x":14.93,"y":1},{"x":15.07,"y":2.5},{"x":15.22,"y":1},{"x":15.38,"y":2},{"x":15.52,"y":0.5},{"x":15.67,"y":1.5},{"x":15.83,"y":2},{"x":15.97,"y":1},{"x":16.12,"y":2},{"x":16.28,"y":1},{"x":16.42,"y":1.5},{"x":16.57,"y":0.5},{"x":16.73,"y":2},{"x":16.87,"y":1},{"x":17.02,"y":1.5},{"x":17.18,"y":1},{"x":17.32,"y":2},{"x":17.47,"y":0.5},{"x":17.62,"y":1}]
},
"spacing": 25,
"center": true,
"resolve": {"scale": {"shape": "independent"}, "legend": {"shape": "independent"}},
"vconcat": [
{
"hconcat": [
{
 "width": 440, "height": 288,
 "layer": [
  {"data": {"name": "a"}, "mark": {"type": "point", "filled": true, "size": 165, "fill": "#555", "stroke": "#222", "strokeWidth": 0.6, "opacity": 0.7},
   "encoding": {
    "x": {"field": "x", "type": "quantitative", "scale": {"domain": [-17.7, 17.7], "nice": false, "zero": false},
      "axis": {"orient": "bottom", "labelFont": "Liberation Serif", "titleFont": "Liberation Serif", "values": [-17.7,-16.225,-14.75,-13.275,-11.8,-10.325,-8.85,-7.375,-5.9,-4.425,-2.95,-1.475,0,1.475,2.95,4.425,5.9,7.375,8.85,10.325,11.8,13.275,14.75,16.225,17.7],
        "labelExpr": "abs(datum.value/5.9 - round(datum.value/5.9)) < 0.01 ? (datum.value < -0.01 ? '-' : '') + (abs(datum.value) < 0.01 ? '0' : format(abs(datum.value), '.1f')) : ''",
        "tickSize": {"condition": {"test": "abs(datum.value/5.9 - round(datum.value/5.9)) < 0.01", "value": -6}, "value": -3},
        "labelPadding": 17, "title": "Distance to the centerline (in)", "titlePadding": 0}},
    "y": {"field": "y", "type": "quantitative", "scale": {"domain": [-29, 174], "nice": false, "zero": false},
      "axis": {"orient": "left", "labelFont": "Liberation Serif", "titleFont": "Liberation Serif", "values": [-29,-21.75,-14.5,-7.25,0,7.25,14.5,21.75,29,36.25,43.5,50.75,58,65.25,72.5,79.75,87,94.25,101.5,108.75,116,123.25,130.5,137.75,145,152.25,159.5,166.75,174],
        "labelExpr": "abs(datum.value/29 - round(datum.value/29)) < 0.01 ? (datum.value < 0 ? '-' : '') + format(abs(datum.value), 'd') : ''",
        "tickSize": {"condition": {"test": "abs(datum.value/29 - round(datum.value/29)) < 0.01", "value": -6}, "value": -3},
        "labelPadding": 12, "title": "Interlaminar stress (psi)", "titlePadding": 5}},
    "shape": {"datum": "Vacuum sweeping", "type": "nominal", "scale": {"domain": ["Vacuum sweeping", "Reference line"], "range": ["M0,-0.35A0.35,0.35,0,1,1,0,0.35A0.35,0.35,0,1,1,0,-0.35Z", "M-1.4,0H1.4"]},
      "legend": {"orient": "top-left", "offset": 4, "title": null, "strokeColor": "#999", "fillColor": "white", "padding": 4, "labelFont": "Liberation Serif", "labelFontSize": 25, "labelLimit": 400, "labelColor": "black", "rowPadding": 0, "labelOffset": 2, "symbolSize": 120,
        "encode": {"symbols": {"strokeWidth": {"value": {"expr": "datum.value === 'Reference line' ? 2 : 0.5"}}, "stroke": {"value": "black"}, "fill": {"value": "#777"}, "opacity": {"value": 1}}}}}
   }},
  {"data": {"name": "ref"}, "mark": {"type": "line", "color": "black", "strokeWidth": 2},
   "encoding": {
    "x": {"field": "x", "type": "quantitative", "axis": {"orient": "top", "values": [-17.7,-16.225,-14.75,-13.275,-11.8,-10.325,-8.85,-7.375,-5.9,-4.425,-2.95,-1.475,0,1.475,2.95,4.425,5.9,7.375,8.85,10.325,11.8,13.275,14.75,16.225,17.7], "labels": false, "title": null, "tickSize": {"condition": {"test": "abs(datum.value/5.9 - round(datum.value/5.9)) < 0.01", "value": -6}, "value": -3}}},
    "y": {"field": "y", "type": "quantitative", "axis": {"orient": "right", "values": [-29,-21.75,-14.5,-7.25,0,7.25,14.5,21.75,29,36.25,43.5,50.75,58,65.25,72.5,79.75,87,94.25,101.5,108.75,116,123.25,130.5,137.75,145,152.25,159.5,166.75,174], "labels": false, "title": null, "tickSize": {"condition": {"test": "abs(datum.value/29 - round(datum.value/29)) < 0.01", "value": -6}, "value": -3}}}
   }},
  {"data": {"name": "labels"}, "transform": [{"filter": "datum.panel === 'a'"}], "mark": {"type": "text", "font": "Lato", "fontSize": 30, "color": "black"},
   "encoding": {"x": {"field": "x", "type": "quantitative", "axis": null}, "y": {"field": "y", "type": "quantitative", "axis": null}, "text": {"field": "label"}}}
 ],
 "resolve": {"axis": {"x": "independent", "y": "independent"}}
},
{
 "width": 440, "height": 288,
 "layer": [
  {"data": {"name": "b"}, "mark": {"type": "point", "filled": true, "size": 165, "fill": "#555", "stroke": "#222", "strokeWidth": 0.6, "opacity": 0.7},
   "encoding": {
    "x": {"field": "x", "type": "quantitative", "scale": {"domain": [-17.7, 17.7], "nice": false, "zero": false},
      "axis": {"orient": "bottom", "labelFont": "Liberation Serif", "titleFont": "Liberation Serif", "values": [-17.7,-16.225,-14.75,-13.275,-11.8,-10.325,-8.85,-7.375,-5.9,-4.425,-2.95,-1.475,0,1.475,2.95,4.425,5.9,7.375,8.85,10.325,11.8,13.275,14.75,16.225,17.7],
        "labelExpr": "abs(datum.value/5.9 - round(datum.value/5.9)) < 0.01 ? (datum.value < -0.01 ? '-' : '') + (abs(datum.value) < 0.01 ? '0' : format(abs(datum.value), '.1f')) : ''",
        "tickSize": {"condition": {"test": "abs(datum.value/5.9 - round(datum.value/5.9)) < 0.01", "value": -6}, "value": -3},
        "labelPadding": 17, "title": "Distance to the centerline (in)", "titlePadding": 0}},
    "y": {"field": "y", "type": "quantitative", "scale": {"domain": [-29, 174], "nice": false, "zero": false},
      "axis": {"orient": "left", "labelFont": "Liberation Serif", "titleFont": "Liberation Serif", "values": [-29,-21.75,-14.5,-7.25,0,7.25,14.5,21.75,29,36.25,43.5,50.75,58,65.25,72.5,79.75,87,94.25,101.5,108.75,116,123.25,130.5,137.75,145,152.25,159.5,166.75,174],
        "labelExpr": "abs(datum.value/29 - round(datum.value/29)) < 0.01 ? (datum.value < 0 ? '-' : '') + format(abs(datum.value), 'd') : ''",
        "tickSize": {"condition": {"test": "abs(datum.value/29 - round(datum.value/29)) < 0.01", "value": -6}, "value": -3},
        "labelPadding": 12, "title": "Interlaminar stress (psi)", "titlePadding": 5}},
    "shape": {"datum": "Shot-blasting", "type": "nominal", "scale": {"domain": ["Shot-blasting", "Reference line"], "range": ["M0,-0.35A0.35,0.35,0,1,1,0,0.35A0.35,0.35,0,1,1,0,-0.35Z", "M-1.4,0H1.4"]},
      "legend": {"orient": "top-left", "offset": 4, "title": null, "strokeColor": "#999", "fillColor": "white", "padding": 4, "labelFont": "Liberation Serif", "labelFontSize": 25, "labelLimit": 400, "labelColor": "black", "rowPadding": 0, "labelOffset": 2, "symbolSize": 120,
        "encode": {"symbols": {"strokeWidth": {"value": {"expr": "datum.value === 'Reference line' ? 2 : 0.5"}}, "stroke": {"value": "black"}, "fill": {"value": "#777"}, "opacity": {"value": 1}}}}}
   }},
  {"data": {"name": "ref"}, "mark": {"type": "line", "color": "black", "strokeWidth": 2},
   "encoding": {
    "x": {"field": "x", "type": "quantitative", "axis": {"orient": "top", "values": [-17.7,-16.225,-14.75,-13.275,-11.8,-10.325,-8.85,-7.375,-5.9,-4.425,-2.95,-1.475,0,1.475,2.95,4.425,5.9,7.375,8.85,10.325,11.8,13.275,14.75,16.225,17.7], "labels": false, "title": null, "tickSize": {"condition": {"test": "abs(datum.value/5.9 - round(datum.value/5.9)) < 0.01", "value": -6}, "value": -3}}},
    "y": {"field": "y", "type": "quantitative", "axis": {"orient": "right", "values": [-29,-21.75,-14.5,-7.25,0,7.25,14.5,21.75,29,36.25,43.5,50.75,58,65.25,72.5,79.75,87,94.25,101.5,108.75,116,123.25,130.5,137.75,145,152.25,159.5,166.75,174], "labels": false, "title": null, "tickSize": {"condition": {"test": "abs(datum.value/29 - round(datum.value/29)) < 0.01", "value": -6}, "value": -3}}}
   }},
  {"data": {"name": "labels"}, "transform": [{"filter": "datum.panel === 'b'"}], "mark": {"type": "text", "font": "Lato", "fontSize": 30, "color": "black"},
   "encoding": {"x": {"field": "x", "type": "quantitative", "axis": null}, "y": {"field": "y", "type": "quantitative", "axis": null}, "text": {"field": "label"}}}
 ],
 "resolve": {"axis": {"x": "independent", "y": "independent"}}
}
],
"spacing": 33,
"resolve": {"scale": {"shape": "independent"}, "legend": {"shape": "independent"}}
},
{
 "width": 440, "height": 288,
 "layer": [
  {"data": {"name": "c"}, "mark": {"type": "point", "filled": true, "size": 165, "fill": "#555", "stroke": "#222", "strokeWidth": 0.6, "opacity": 0.7},
   "encoding": {
    "x": {"field": "x", "type": "quantitative", "scale": {"domain": [-17.7, 17.7], "nice": false, "zero": false},
      "axis": {"orient": "bottom", "labelFont": "Liberation Serif", "titleFont": "Liberation Serif", "values": [-17.7,-16.225,-14.75,-13.275,-11.8,-10.325,-8.85,-7.375,-5.9,-4.425,-2.95,-1.475,0,1.475,2.95,4.425,5.9,7.375,8.85,10.325,11.8,13.275,14.75,16.225,17.7],
        "labelExpr": "abs(datum.value/5.9 - round(datum.value/5.9)) < 0.01 ? (datum.value < -0.01 ? '-' : '') + (abs(datum.value) < 0.01 ? '0' : format(abs(datum.value), '.1f')) : ''",
        "tickSize": {"condition": {"test": "abs(datum.value/5.9 - round(datum.value/5.9)) < 0.01", "value": -6}, "value": -3},
        "labelPadding": 17, "title": "Distance to the centerline (in)", "titlePadding": 0}},
    "y": {"field": "y", "type": "quantitative", "scale": {"domain": [-29, 174], "nice": false, "zero": false},
      "axis": {"orient": "left", "labelFont": "Liberation Serif", "titleFont": "Liberation Serif", "values": [-29,-21.75,-14.5,-7.25,0,7.25,14.5,21.75,29,36.25,43.5,50.75,58,65.25,72.5,79.75,87,94.25,101.5,108.75,116,123.25,130.5,137.75,145,152.25,159.5,166.75,174],
        "labelExpr": "abs(datum.value/29 - round(datum.value/29)) < 0.01 ? (datum.value < 0 ? '-' : '') + format(abs(datum.value), 'd') : ''",
        "tickSize": {"condition": {"test": "abs(datum.value/29 - round(datum.value/29)) < 0.01", "value": -6}, "value": -3},
        "labelPadding": 12, "title": "Interlaminar stress (psi)", "titlePadding": 5}},
    "shape": {"datum": "Scarification milling", "type": "nominal", "scale": {"domain": ["Scarification milling", "Reference line"], "range": ["M0,-0.35A0.35,0.35,0,1,1,0,0.35A0.35,0.35,0,1,1,0,-0.35Z", "M-1.4,0H1.4"]},
      "legend": {"orient": "top-left", "offset": 4, "title": null, "strokeColor": "#999", "fillColor": "white", "padding": 4, "labelFont": "Liberation Serif", "labelFontSize": 25, "labelLimit": 400, "labelColor": "black", "rowPadding": 0, "labelOffset": 2, "symbolSize": 120,
        "encode": {"symbols": {"strokeWidth": {"value": {"expr": "datum.value === 'Reference line' ? 2 : 0.5"}}, "stroke": {"value": "black"}, "fill": {"value": "#777"}, "opacity": {"value": 1}}}}}
   }},
  {"data": {"name": "ref"}, "mark": {"type": "line", "color": "black", "strokeWidth": 2},
   "encoding": {
    "x": {"field": "x", "type": "quantitative", "axis": {"orient": "top", "values": [-17.7,-16.225,-14.75,-13.275,-11.8,-10.325,-8.85,-7.375,-5.9,-4.425,-2.95,-1.475,0,1.475,2.95,4.425,5.9,7.375,8.85,10.325,11.8,13.275,14.75,16.225,17.7], "labels": false, "title": null, "tickSize": {"condition": {"test": "abs(datum.value/5.9 - round(datum.value/5.9)) < 0.01", "value": -6}, "value": -3}}},
    "y": {"field": "y", "type": "quantitative", "axis": {"orient": "right", "values": [-29,-21.75,-14.5,-7.25,0,7.25,14.5,21.75,29,36.25,43.5,50.75,58,65.25,72.5,79.75,87,94.25,101.5,108.75,116,123.25,130.5,137.75,145,152.25,159.5,166.75,174], "labels": false, "title": null, "tickSize": {"condition": {"test": "abs(datum.value/29 - round(datum.value/29)) < 0.01", "value": -6}, "value": -3}}}
   }},
  {"data": {"name": "labels"}, "transform": [{"filter": "datum.panel === 'c'"}], "mark": {"type": "text", "font": "Lato", "fontSize": 30, "color": "black"},
   "encoding": {"x": {"field": "x", "type": "quantitative", "axis": null}, "y": {"field": "y", "type": "quantitative", "axis": null}, "text": {"field": "label"}}}
 ],
 "resolve": {"axis": {"x": "independent", "y": "independent"}}
}
]
}
